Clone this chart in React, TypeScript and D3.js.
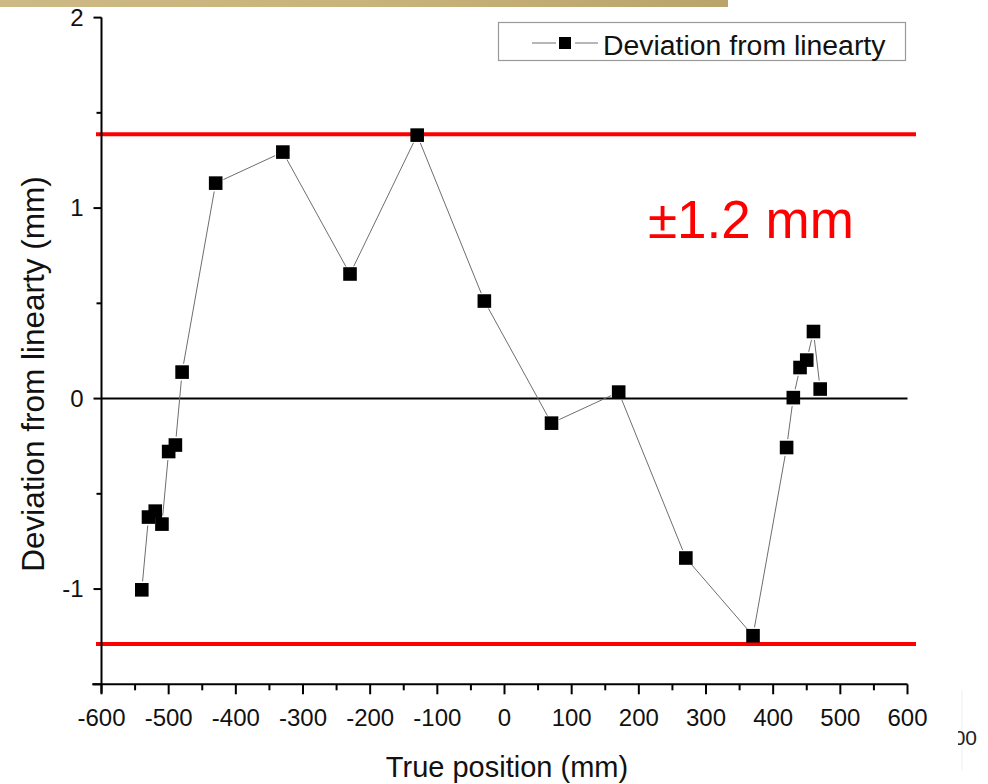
import React from "react";
import * as d3 from "d3";

// Measured deviation from linearity along the travel range
const positions = [-540, -530, -520, -510, -500, -490, -480, -430, -330, -230, -130, -30, 70, 170, 270, 370, 420, 430, 440, 450, 460, 470];
const deviations = [-1.004, -0.622, -0.591, -0.659, -0.278, -0.244, 0.139, 1.131, 1.294, 0.654, 1.383, 0.512, -0.129, 0.034, -0.837, -1.245, -0.257, 0.005, 0.163, 0.202, 0.352, 0.05];

const xMajorTicks = [-600, -500, -400, -300, -200, -100, 0, 100, 200, 300, 400, 500, 600];
const xMinorTicks = [-550, -450, -350, -250, -150, -50, 50, 150, 250, 350, 450, 550];
const yMajorTicks = [-1, 0, 1, 2];
const yMinorTicks = [-1.5, -0.5, 0.5, 1.5];
const limitLines = [1.388, -1.289];

const seriesName = "Deviation from linearty";
const xTitle = "True position (mm)";
const yTitle = "Deviation from linearty (mm)";
const bandLabel = "±1.2 mm";

const FONT = "'Liberation Sans', Arial, Helvetica, sans-serif";

export default function App() {
  const W = 988;
  const H = 784;
  const x = d3.scaleLinear().domain([-600, 600]).range([101.5, 907.5]);
  const y = d3.scaleLinear().domain([-1.5, 2]).range([684.3, 17.6]);

  const pts = positions.map((p, i) => [x(p), y(deviations[i])] as [number, number]);
  const half = 6.8;
  const gap = 8.5;

  // connecting segments, trimmed so they stop short of the symbols
  const segs: { x1: number; y1: number; x2: number; y2: number }[] = [];
  for (let i = 0; i < pts.length - 1; i++) {
    const [ax, ay] = pts[i];
    const [bx, by] = pts[i + 1];
    const dx = bx - ax;
    const dy = by - ay;
    const len = Math.hypot(dx, dy);
    if (len <= gap * 2 + 1) continue;
    const ux = dx / len;
    const uy = dy / len;
    segs.push({ x1: ax + ux * gap, y1: ay + uy * gap, x2: bx - ux * gap, y2: by - uy * gap });
  }

  const x0 = x(-600);
  const x1 = x(600);
  const yb = y(-1.5);

  return (
    <svg
      width={W}
      height={H}
      viewBox={`0 0 ${W} ${H}`}
      style={{ position: "absolute", left: 0, top: 0, background: "#fff" }}
      fontFamily={FONT}
    >
      <defs>
        <linearGradient id="goldBar" x1="0" x2="1" y1="0" y2="0">
          <stop offset="0" stopColor="#cdb985" />
          <stop offset="0.5" stopColor="#c9b37c" />
          <stop offset="1" stopColor="#b9a46a" />
        </linearGradient>
        <clipPath id="fragClip">
          <rect x={958} y={700} width={30} height={70} />
        </clipPath>
      </defs>

      <rect x={0} y={0} width={W} height={H} fill="#fff" />
      <rect x={0} y={0} width={728} height={7} fill="url(#goldBar)" />

      {/* zero reference */}
      <line x1={x0} x2={x1} y1={y(0)} y2={y(0)} stroke="#000" strokeWidth={2} />

      {/* limit lines */}
      {limitLines.map((v) => (
        <line key={v} x1={96} x2={916} y1={y(v)} y2={y(v)} stroke="#ff0000" strokeWidth={4} />
      ))}

      {/* series */}
      {segs.map((s, i) => (
        <line key={i} x1={s.x1} y1={s.y1} x2={s.x2} y2={s.y2} stroke="#6e6e6e" strokeWidth={1} />
      ))}
      {pts.map(([px, py], i) => (
        <rect key={i} x={px - half} y={py - half} width={half * 2} height={half * 2} fill="#000" />
      ))}

      {/* y axis */}
      <line x1={x0} x2={x0} y1={y(2)} y2={yb + 9} stroke="#000" strokeWidth={2} />
      {yMajorTicks.map((t) => (
        <g key={t}>
          <line x1={x0 - 8} x2={x0} y1={y(t)} y2={y(t)} stroke="#000" strokeWidth={2} />
          <text x={x0 - 18} y={y(t)} dy="0.35em" textAnchor="end" fontSize={24} fill="#111">
            {t}
          </text>
        </g>
      ))}
      {yMinorTicks.map((t) => (
        <line key={t} x1={x0 - (t === -1.5 ? 9 : 5)} x2={x0} y1={y(t)} y2={y(t)} stroke="#000" strokeWidth={2} />
      ))}

      {/* x axis */}
      <line x1={x0 - 9} x2={x1} y1={yb} y2={yb} stroke="#000" strokeWidth={2} />
      {xMajorTicks.map((t) => (
        <g key={t}>
          <line x1={x(t)} x2={x(t)} y1={yb} y2={yb + 10} stroke="#000" strokeWidth={2} />
          <text x={x(t)} y={yb + 33} dy="0.35em" textAnchor="middle" fontSize={24} fill="#111">
            {t}
          </text>
        </g>
      ))}
      {xMinorTicks.map((t) => (
        <line key={t} x1={x(t)} x2={x(t)} y1={yb} y2={yb + 6} stroke="#000" strokeWidth={2} />
      ))}

      {/* axis titles */}
      <text x={507} y={777} textAnchor="middle" fontSize={29} fill="#111">
        {xTitle}
      </text>
      <text
        transform={`translate(44, 374) rotate(-90)`}
        textAnchor="middle"
        fontSize={31.5}
        fill="#111"
      >
        {yTitle}
      </text>

      {/* legend */}
      <rect x={498.5} y={22.5} width={407} height={38} fill="#fff" stroke="#9a9a9a" strokeWidth={1.2} />
      <line x1={532} x2={556} y1={43} y2={43} stroke="#6e6e6e" strokeWidth={1} />
      <line x1={575} x2={598} y1={43} y2={43} stroke="#6e6e6e" strokeWidth={1} />
      <rect x={559} y={37} width={12} height={12} fill="#000" />
      <text x={603} y={55} fontSize={28.4} fill="#111">
        {seriesName}
      </text>

      {/* band annotation */}
      <text x={648} y={238} fontSize={53} fill="#ff0000">
        {bandLabel}
      </text>

      {/* clipped fragment at the lower right */}
      <line x1={962} x2={962} y1={690} y2={770} stroke="#efefef" strokeWidth={1} />
      <g clipPath="url(#fragClip)">
        <text x={977} y={745} textAnchor="end" fontSize={21} fill="#222">
          00
        </text>
      </g>
    </svg>
  );
}
